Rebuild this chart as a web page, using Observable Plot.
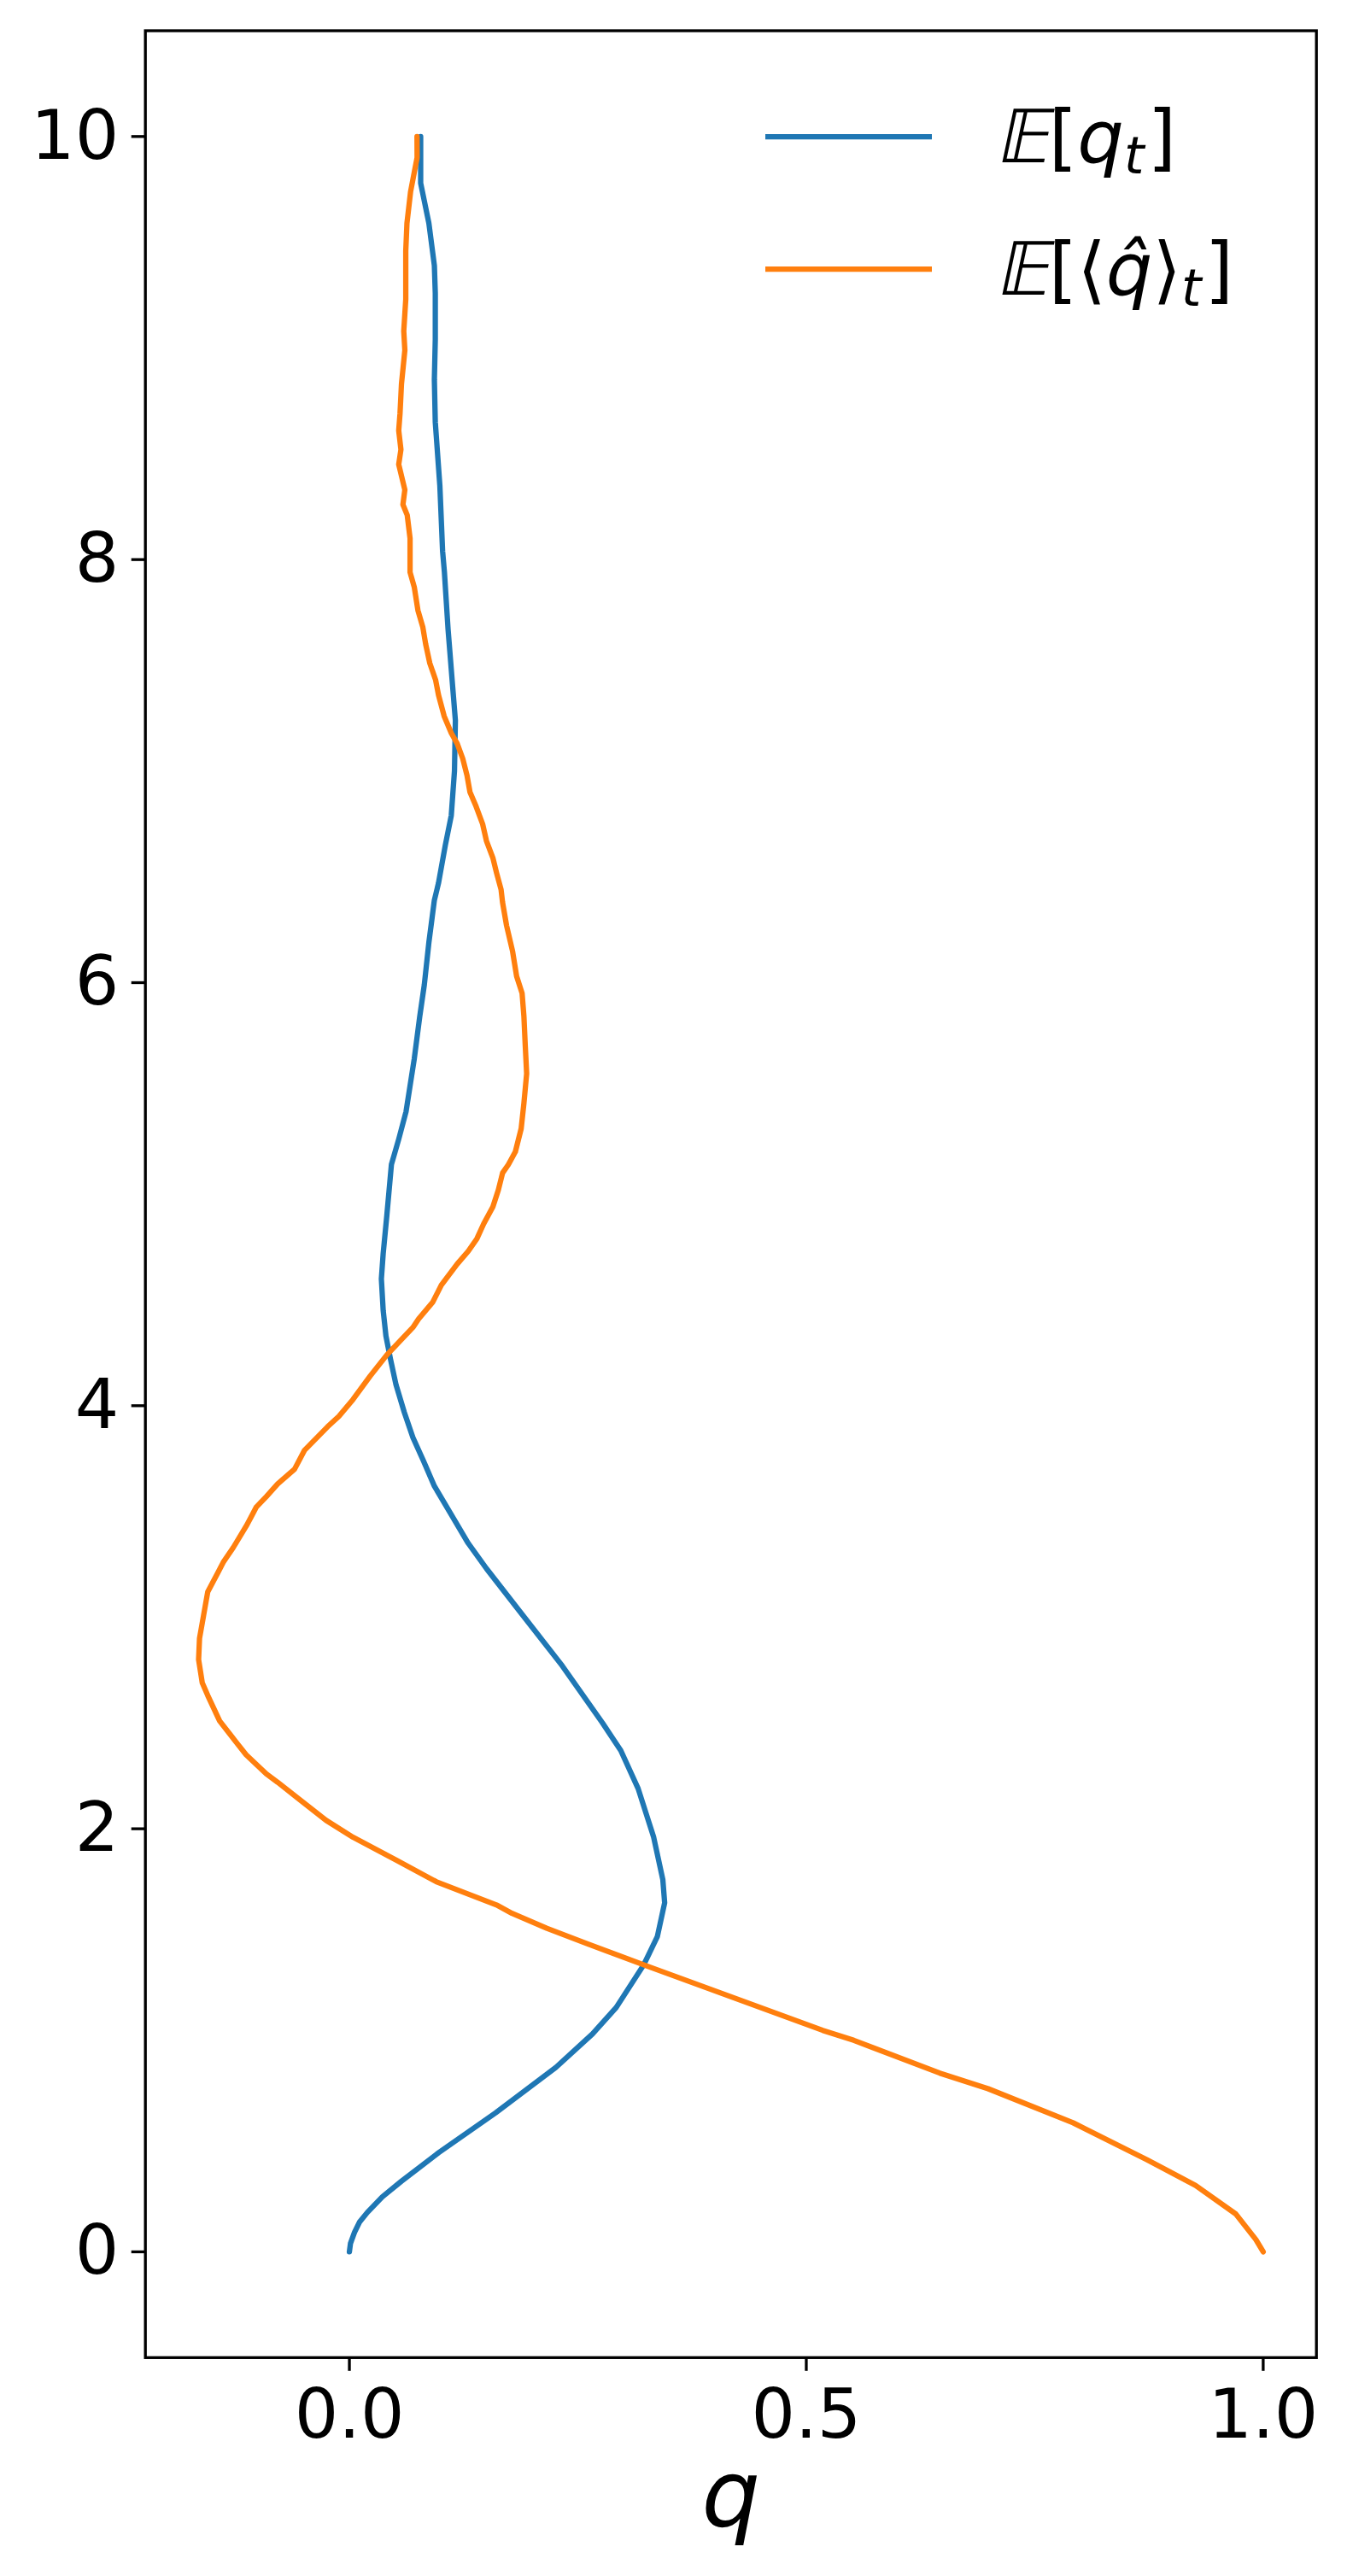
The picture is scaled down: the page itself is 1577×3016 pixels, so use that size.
<!DOCTYPE html>
<html><head><meta charset="utf-8">
<script src="https://cdn.jsdelivr.net/npm/d3@7"></script>
<script src="https://cdn.jsdelivr.net/npm/@observablehq/plot@0.6"></script>
<style>html,body{margin:0;padding:0;background:#fff;} svg{display:block;}</style>
</head><body><div id="chart"></div>
<script>
// ---- data ----
const blueT = [0, 0.04, 0.092, 0.14, 0.186, 0.26, 0.334, 0.468, 0.657, 0.872, 1.03, 1.155, 1.356, 1.49, 1.65, 1.76, 1.96, 2.19, 2.37, 2.50, 2.77, 3.03, 3.23, 3.35, 3.62, 3.74, 3.85, 3.97, 4.10, 4.22, 4.33, 4.45, 4.60, 4.72, 4.90, 5.14, 5.26, 5.39, 5.64, 5.84, 5.99, 6.19, 6.39, 6.47, 6.65, 6.79, 7.00, 7.24, 7.40, 7.67, 7.94, 8.04, 8.35, 8.65, 8.85, 9.04, 9.26, 9.39, 9.59, 9.78, 10.0];
const blueQ = [0, 0.0012, 0.0056, 0.011, 0.0196, 0.036, 0.057, 0.0975, 0.160, 0.226, 0.266, 0.292, 0.322, 0.337, 0.345, 0.343, 0.333, 0.316, 0.297, 0.277, 0.233, 0.186, 0.150, 0.130, 0.093, 0.081, 0.0695, 0.060, 0.051, 0.045, 0.040, 0.037, 0.035, 0.037, 0.041, 0.046, 0.054, 0.062, 0.071, 0.077, 0.082, 0.087, 0.093, 0.0975, 0.105, 0.1115, 0.115, 0.116, 0.113, 0.108, 0.104, 0.102, 0.099, 0.094, 0.093, 0.094, 0.094, 0.093, 0.087, 0.078, 0.078];

const orangeT = [0, 0.058, 0.179, 0.314, 0.435, 0.61, 0.771, 0.845, 1.0, 1.047, 1.262, 1.357, 1.457, 1.53, 1.60, 1.64, 1.75, 1.85, 1.96, 2.04, 2.14, 2.22, 2.26, 2.35, 2.41, 2.51, 2.63, 2.69, 2.80, 2.90, 3.01, 3.12, 3.21, 3.26, 3.33, 3.43, 3.47, 3.52, 3.57, 3.63, 3.70, 3.79, 3.90, 3.95, 4.03, 4.14, 4.24, 4.30, 4.37, 4.41, 4.49, 4.57, 4.67, 4.73, 4.79, 4.86, 4.94, 5.02, 5.10, 5.14, 5.20, 5.31, 5.43, 5.57, 5.70, 5.84, 5.95, 6.03, 6.15, 6.27, 6.38, 6.44, 6.52, 6.59, 6.67, 6.75, 6.84, 6.90, 6.98, 7.06, 7.13, 7.18, 7.26, 7.36, 7.43, 7.51, 7.60, 7.68, 7.76, 7.87, 7.94, 8.10, 8.21, 8.26, 8.33, 8.45, 8.52, 8.61, 8.69, 8.83, 8.99, 9.08, 9.23, 9.46, 9.59, 9.74, 9.83, 9.90, 10.0];
const orangeQ = [1.0, 0.992, 0.970, 0.926, 0.873, 0.792, 0.699, 0.646, 0.552, 0.518, 0.382, 0.322, 0.260, 0.216, 0.178, 0.161, 0.095, 0.052, 0.004, -0.0255, -0.055, -0.0785, -0.091, -0.113, -0.124, -0.142, -0.155, -0.161, -0.165, -0.164, -0.1595, -0.155, -0.144, -0.138, -0.127, -0.113, -0.108, -0.102, -0.091, -0.0785, -0.060, -0.049, -0.024, -0.0115, 0.004, 0.0227, 0.041, 0.054, 0.0695, 0.0757, 0.0913, 0.1006, 0.118, 0.130, 0.1396, 0.147, 0.157, 0.163, 0.1676, 0.174, 0.1816, 0.188, 0.191, 0.194, 0.1925, 0.191, 0.189, 0.183, 0.1785, 0.172, 0.1676, 0.166, 0.161, 0.157, 0.150, 0.1458, 0.138, 0.132, 0.1287, 0.124, 0.118, 0.1115, 0.1037, 0.0975, 0.0944, 0.088, 0.0835, 0.0804, 0.075, 0.071, 0.0664, 0.0664, 0.0633, 0.0586, 0.0607, 0.054, 0.0564, 0.054, 0.0554, 0.057, 0.0607, 0.0595, 0.0617, 0.0617, 0.063, 0.067, 0.071, 0.0741, 0.074];

const yTicks = [0, 2, 4, 6, 8, 10];
const xTicks = [0.0, 0.5, 1.0];
const xLabel = "q";
const colors = ["#1f77b4", "#ff7f0e"];

// ---- build tables ----
const blue = blueT.map((t, i) => ({t, q: blueQ[i]}));
const orange = orangeT.map((t, i) => ({t, q: orangeQ[i]}));

// matplotlib-like 5% margins
const [qmin, qmax] = d3.extent(blueQ.concat(orangeQ));
const qpad = (qmax - qmin) * 0.05;
const [tmin, tmax] = d3.extent(blueT.concat(orangeT));
const tpad = (tmax - tmin) * 0.05;

const W = 1577, H = 3016;
const mL = 169.7, mR = 36.3, mT = 35.5, mB = 256.2;
const FONT = "'DejaVu Sans', sans-serif";
const lw = 6.25, axW = 3.33;

const chart = Plot.plot({
  width: W, height: H,
  marginLeft: mL, marginRight: mR, marginTop: mT, marginBottom: mB,
  style: {fontFamily: FONT, fontSize: "81px", color: "#000", background: "#fff", overflow: "visible"},
  x: {domain: [qmin - qpad, qmax + qpad]},
  y: {domain: [tmin - tpad, tmax + tpad]},
  marks: [
    Plot.line(blue, {x: "q", y: "t", stroke: colors[0], strokeWidth: lw, strokeLinejoin: "round"}),
    Plot.line(orange, {x: "q", y: "t", stroke: colors[1], strokeWidth: lw, strokeLinejoin: "round"}),
    Plot.frame({stroke: "#000", strokeWidth: axW}),
    Plot.axisY({ticks: yTicks, tickSize: 16, tickPadding: 15, tickFormat: d => String(d), strokeWidth: axW, fontSize: 81, label: null}),
    Plot.axisX({ticks: xTicks, tickSize: 16, tickPadding: 20, tickFormat: d3.format(".1f"), strokeWidth: axW, fontSize: 81, label: null}),
    Plot.text([xLabel], {frameAnchor: "bottom", dy: 163, fontStyle: "italic", fontSize: 108, lineAnchor: "middle", fill: "#000"})
  ]
});
document.getElementById("chart").appendChild(chart);

// ---- legend (no frame), upper right ----
const svg = d3.select(chart);
const leg = svg.append("g").attr("font-family", FONT).attr("font-size", 86)
  .attr("fill", "#000").attr("text-anchor", "start");
const legX0 = 896, legX1 = 1091, legTextX = 1165;
const rows = [{y: 160, color: colors[0]}, {y: 315, color: colors[1]}];
rows.forEach(r => {
  leg.append("line").attr("x1", legX0).attr("x2", legX1).attr("y1", r.y).attr("y2", r.y)
    .attr("stroke", r.color).attr("stroke-width", lw);
});

function legendLabel(baseY, build) {
  // slanted double-struck E, then the rest of the label
  const e = leg.append("text").attr("text-anchor", "start")
    .attr("transform", `translate(${legTextX},${baseY}) skewX(-12)`).text("\u{1D53C}");
  const ew = e.node().getComputedTextLength();
  const t = leg.append("text").attr("x", legTextX + ew).attr("y", baseY).attr("text-anchor", "start");
  build(t);
}
legendLabel(rows[0].y + 30, t => {
  t.append("tspan").text("[");
  t.append("tspan").attr("font-style", "italic").text("q");
  t.append("tspan").attr("font-style", "italic").attr("font-size", 60).attr("dy", 13).text("t");
  t.append("tspan").attr("dy", -13).attr("dx", 4).text("]");
});
legendLabel(rows[1].y + 30, t => {
  t.append("tspan").text("[");
  t.append("tspan").text("\u27E8");
  t.append("tspan").attr("font-style", "italic").text("q\u0302");
  t.append("tspan").text("\u27E9");
  t.append("tspan").attr("font-style", "italic").attr("font-size", 60).attr("dy", 13).text("t");
  t.append("tspan").attr("dy", -13).attr("dx", 4).text("]");
});
</script>
</body></html>
